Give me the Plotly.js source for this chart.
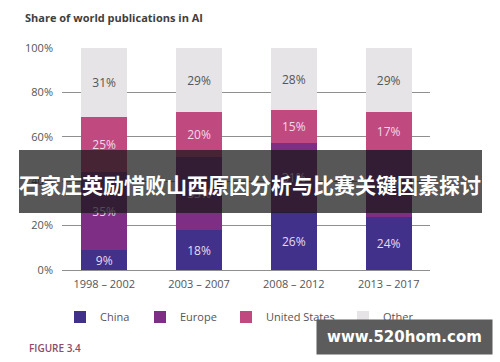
<!DOCTYPE html>
<html>
<head>
<meta charset="utf-8">
<script src="https://cdn.plot.ly/plotly-3.0.1.min.js"></script>
<style>html,body{margin:0;padding:0;background:#fff;}#chart{width:500px;height:362px;}</style>
</head>
<body>
<div id="chart"></div>
<script>
const periods = ["1998 – 2002", "2003 – 2007", "2008 – 2012", "2013 – 2017"];
const china = [9, 18, 26, 24];
const europe = [35, 33, 31, 30];
const unitedStates = [25, 20, 15, 17];
const other = [31, 29, 28, 29];
const seriesNames = ["China", "Europe", "United States", "Other"];
const yTickVals = [0, 20, 40, 60, 80, 100];

const colors = ["#41318a", "#7e2f85", "#c04a80", "#e6e4e6"];
const textColors = ["#e6dcf0", "#ead8ee", "#f0dbe6", "#555555"];
const seriesData = [china, europe, unitedStates, other];
const legendIds = ["legend", "legend2", "legend3", "legend4"];
const legendX = [60, 140, 226, 343];

const FONT = "'Open Sans', 'Noto Sans', sans-serif";

const traces = seriesData.map((vals, i) => ({
  type: "bar",
  name: seriesNames[i],
  x: [0, 1, 2, 3],
  y: vals,
  width: 0.485,
  marker: { color: colors[i] },
  text: vals.map(v => v + "%"),
  textposition: "inside",
  insidetextanchor: "middle",
  textangle: 0,
  constraintext: "none",
  textfont: { family: FONT, size: 12, color: textColors[i] },
  legend: legendIds[i],
  hoverinfo: "skip"
}));

const legendCommon = {
  orientation: "h",
  xref: "container",
  yref: "container",
  xanchor: "left",
  yanchor: "middle",
  y: 1 - 317 / 362,
  bgcolor: "rgba(0,0,0,0)",
  font: { family: FONT, size: 11, color: "#555555" },
  itemclick: false
};

const layout = {
  width: 500,
  height: 362,
  margin: { l: 62, r: 70, t: 48, b: 92 },
  paper_bgcolor: "#ffffff",
  plot_bgcolor: "#ffffff",
  barmode: "stack",
  showlegend: true,
  title: {
    text: "<b>Share of world publications in AI</b>",
    xref: "container", yref: "container",
    x: 25 / 500, xanchor: "left",
    y: 1 - 18 / 362, yanchor: "middle",
    font: { family: FONT, size: 11, color: "#404040" }
  },
  xaxis: {
    range: [-0.445, 3.436],
    tickmode: "array",
    tickvals: [0, 1, 2, 3],
    ticktext: periods,
    showgrid: false,
    zeroline: false,
    showline: false,
    ticks: "",
    ticklabelstandoff: 6,
    tickfont: { family: FONT, size: 11, color: "#555555" },
    fixedrange: true
  },
  yaxis: {
    range: [0, 100],
    tickmode: "array",
    tickvals: yTickVals,
    ticktext: yTickVals.map(v => v + "%"),
    showgrid: true,
    gridcolor: "#8f8f8f",
    gridwidth: 1,
    zeroline: true,
    zerolinecolor: "#8f8f8f",
    zerolinewidth: 1,
    showline: false,
    ticks: "",
    ticklabelstandoff: 8,
    tickfont: { family: FONT, size: 11, color: "#555555" },
    fixedrange: true
  },
  shapes: [
    {
      type: "rect", layer: "above",
      xref: "paper", yref: "paper",
      x0: (19 - 62) / 368, x1: (482 - 62) / 368,
      y0: (270 - 213) / 222, y1: (270 - 150) / 222,
      line: { width: 0 },
      fillcolor: "rgba(22,22,22,0.72)"
    }
  ],
  annotations: [
    {
      text: "<b>石家庄英励惜败山西原因分析与比赛关键因素探讨</b>",
      xref: "paper", yref: "paper",
      x: (250 - 62) / 368, y: (270 - 184) / 222,
      xanchor: "center", yanchor: "middle",
      showarrow: false,
      font: { family: "'Noto Sans CJK SC', sans-serif", size: 21, color: "#ffffff" }
    },
    {
      text: "FIGURE 3.4",
      xref: "paper", yref: "paper",
      x: (27 - 62) / 368, y: (270 - 348) / 222,
      xanchor: "left", yanchor: "middle",
      showarrow: false,
      font: { family: FONT, size: 10, color: "#8a4c66", weight: 600 }
    },
    {
      text: "<b>www.520hom.com</b>",
      xref: "paper", yref: "paper",
      x: (316 - 62) / 368, y: (270 - 319) / 222,
      xanchor: "left", yanchor: "top",
      width: 175, height: 34,
      align: "center", valign: "middle",
      bgcolor: "#5c5c5c",
      borderpad: 0,
      showarrow: false,
      font: { family: "'DejaVu Sans', sans-serif", size: 15, color: "#ffffff" }
    }
  ]
};

legendIds.forEach((id, i) => {
  layout[id] = Object.assign({}, legendCommon, { x: legendX[i] / 500 });
});

Plotly.newPlot("chart", traces, layout, { staticPlot: true, displayModeBar: false });
</script>
</body>
</html>
